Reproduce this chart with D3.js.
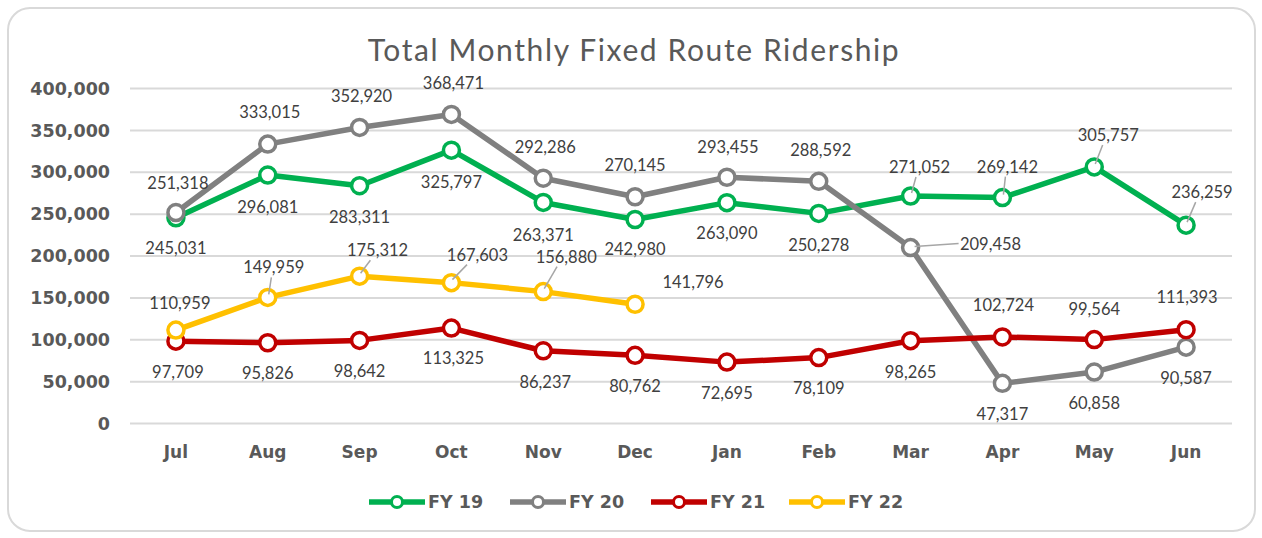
<!DOCTYPE html>
<html>
<head>
<meta charset="utf-8">
<script src="https://cdn.jsdelivr.net/npm/d3@7"></script>
<style>
  html, body { margin: 0; padding: 0; background: #ffffff; }
  svg { display: block; }
</style>
</head>
<body>
<div id="chart"></div>
<script>
// ---- Data ----
const months = ["Jul","Aug","Sep","Oct","Nov","Dec","Jan","Feb","Mar","Apr","May","Jun"];
const seriesNames = ["FY 19","FY 20","FY 21","FY 22"];
const fy19 = [245031,296081,283311,325797,263371,242980,263090,250278,271052,269142,305757,236259];
const fy20 = [251318,333015,352920,368471,292286,270145,293455,288592,209458,47317,60858,90587];
const fy21 = [97709,95826,98642,113325,86237,80762,72695,78109,98265,102724,99564,111393];
const fy22 = [110959,149959,175312,167603,156880,141796];
const yTicks = [0,50000,100000,150000,200000,250000,300000,350000,400000];

// ---- Styling / layout (not data) ----
const colors = ["#00B050","#808080","#C00000","#FFC000"];
// label offsets [dx, dy] from point, and whether a leader line is drawn
const labelLayout = [
  [[0,30],[0,32],[0,31],[0,32],[0,33],[0,29],[0,30],[0,32],[9,-29,1],[5,-31,1],[14,-32,1],[16,-33,1]],
  [[2,-30],[2,-32],[2,-31],[2,-31],[2,-31],[0,-32],[1,-30],[2,-31],[80,-4,1],[0,31],[0,31],[0,31]],
  [[2,31],[0,30],[0,31],[2,30],[2,31],[0,31],[0,31],[0,30],[0,31],[1,-32],[0,-31],[1,-33]],
  [[4,-27],[6,-30,1],[18,-26,1],[26,-28,1],[23,-35,1],[58,-22]]
];

const W = 1262, H = 538;
const svg = d3.select("#chart").append("svg").attr("width", W).attr("height", H);

// chart frame
svg.append("rect").attr("x", 8).attr("y", 8).attr("width", 1247).attr("height", 523)
  .attr("rx", 22).attr("ry", 22).attr("fill", "#fff").attr("stroke", "#d9d9d9").attr("stroke-width", 2);

const x = d3.scaleBand().domain(months).range([130, 1232]);
const y = d3.scaleLinear().domain([0, 400000]).range([423, 88]);
const cx = m => x(m) + x.bandwidth() / 2;

// title
svg.append("text").attr("x", 634).attr("y", 49).attr("text-anchor", "middle")
  .attr("dominant-baseline", "central")
  .style("font-family", "Lato, 'DejaVu Sans', sans-serif").style("font-size", "30px")
  .style("fill", "#595959").style("letter-spacing", "1.6px")
  .text("Total Monthly Fixed Route Ridership");

// gridlines
const yAxis = d3.axisLeft(y).tickValues(yTicks).tickSize(-(1232 - 130)).tickPadding(20)
  .tickFormat(d3.format(","));
const gy = svg.append("g").attr("transform", "translate(130,0)").call(yAxis);
gy.select(".domain").remove();
gy.selectAll(".tick line").attr("stroke", "#d9d9d9").attr("stroke-width", 2);
gy.selectAll(".tick text").style("font-family", "'DejaVu Sans', sans-serif")
  .style("font-weight", "bold").style("font-size", "17.5px").style("fill", "#595959")
  .attr("dy", "0.35em");

// x axis labels
const xAxis = d3.axisBottom(x).tickSize(0).tickPadding(0);
const gx = svg.append("g").attr("transform", "translate(0,446)").call(xAxis);
gx.select(".domain").remove();
gx.selectAll(".tick text").style("font-family", "'DejaVu Sans', sans-serif")
  .style("font-weight", "bold").style("font-size", "17px").style("fill", "#595959");

const allSeries = [fy19, fy20, fy21, fy22];
const line = d3.line().x((d, i) => cx(months[i])).y(d => y(d));

allSeries.forEach((vals, s) => {
  const g = svg.append("g");
  g.append("path").datum(vals).attr("d", line).attr("fill", "none")
    .attr("stroke", colors[s]).attr("stroke-width", 5.5).attr("stroke-linejoin", "round");
  g.selectAll("circle").data(vals).join("circle")
    .attr("cx", (d, i) => cx(months[i])).attr("cy", d => y(d)).attr("r", 8)
    .attr("fill", "#fff").attr("stroke", colors[s]).attr("stroke-width", 3.5);
});

// data labels + leader lines
const fmt = d3.format(",");
const labelG = svg.append("g");
allSeries.forEach((vals, s) => {
  vals.forEach((v, i) => {
    const px = cx(months[i]), py = y(v);
    const [dx, dy, lead] = labelLayout[s][i];
    const lx = px + dx, ly = py + dy;
    if (lead) {
      let x2, y2;
      if (Math.abs(dy) < 10) { x2 = lx - 32; y2 = ly; }
      else { x2 = px + dx * 0.6; y2 = ly + (dy < 0 ? 10 : -10); }
      labelG.append("line").attr("x1", px + (dy < 0 && Math.abs(dy) >= 10 ? 1 : 4)).attr("y1", py + (Math.abs(dy) < 10 ? -1 : (dy < 0 ? -3 : 3)))
        .attr("x2", x2).attr("y2", y2).attr("stroke", "#a6a6a6").attr("stroke-width", 1.5);
    }
    labelG.append("text").attr("x", lx).attr("y", ly).attr("text-anchor", "middle")
      .attr("dominant-baseline", "central")
      .style("font-family", "Lato, 'Open Sans', sans-serif").style("font-size", "16.5px")
      .style("fill", "#404040").text(fmt(v));
  });
});

// legend
const legendX = [369, 510, 651, 789];
const lg = svg.append("g");
seriesNames.forEach((name, s) => {
  const x0 = legendX[s];
  lg.append("line").attr("x1", x0).attr("x2", x0 + 56).attr("y1", 502).attr("y2", 502)
    .attr("stroke", colors[s]).attr("stroke-width", 5.5);
  lg.append("circle").attr("cx", x0 + 28).attr("cy", 502).attr("r", 5.5)
    .attr("fill", "#fff").attr("stroke", colors[s]).attr("stroke-width", 3);
  lg.append("text").attr("x", x0 + 59).attr("y", 502).attr("dominant-baseline", "central")
    .style("font-family", "'DejaVu Sans', sans-serif").style("font-weight", "bold")
    .style("font-size", "17.5px").style("fill", "#595959").text(name);
});
</script>
</body>
</html>
